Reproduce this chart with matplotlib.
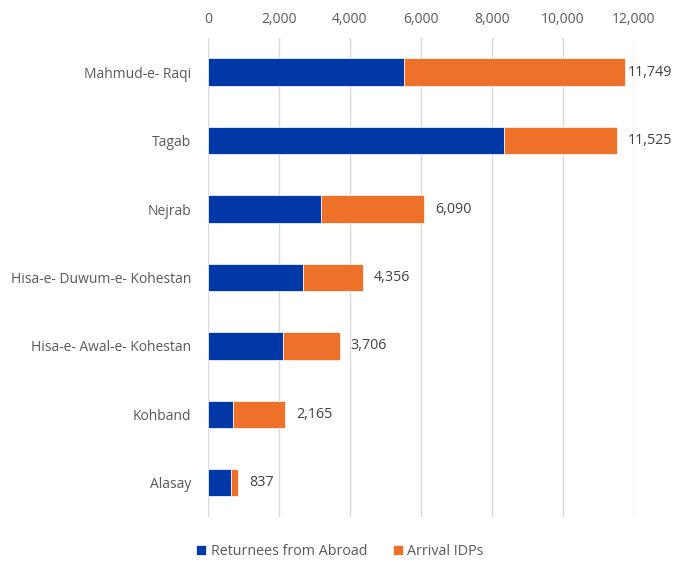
import matplotlib
matplotlib.use("Agg")
import matplotlib.pyplot as plt
from matplotlib.ticker import FuncFormatter

categories = ["Mahmud-e- Raqi", "Tagab", "Nejrab", "Hisa-e- Duwum-e- Kohestan",
              "Hisa-e- Awal-e- Kohestan", "Kohband", "Alasay"]
totals = [11749, 11525, 6090, 4356, 3706, 2165, 837]
returnees = [5510, 8330, 3190, 2675, 2100, 700, 650]
idps = [t - r for t, r in zip(totals, returnees)]

blue = "#0038A8"
orange = "#ED7128"
grey = "#595959"

plt.rcParams['font.family'] = ['Open Sans', 'DejaVu Sans']

fig = plt.figure(figsize=(6.73, 5.63), dpi=100)
ax = fig.add_axes([0.309, 0.0817, 0.633, 0.851])

y = list(range(len(categories)))
ax.barh(y, returnees, height=0.4, color=blue, edgecolor="white", linewidth=0.5,
        label="Returnees from Abroad", zorder=3)
ax.barh(y, idps, left=returnees, height=0.4, color=orange, edgecolor="white",
        linewidth=0.5, label="Arrival IDPs", zorder=3)

for i, t in enumerate(totals):
    off = 2 if i == 0 else 8
    ax.annotate(f"{t:,}", xy=(t, i), xytext=(off, 0), textcoords="offset points",
                va="center", ha="left", fontsize=10.3, color="#404040")

ax.set_xlim(0, 12000)
ax.set_ylim(len(categories) - 0.5, -0.5)
ax.set_yticks(y)
ax.set_yticklabels(categories)
ax.set_xticks(range(0, 12001, 2000))
ax.xaxis.set_major_formatter(FuncFormatter(lambda v, p: f"{int(v):,}"))
ax.xaxis.tick_top()
ax.tick_params(axis="both", length=0, labelsize=10, colors=grey, pad=8)
ax.tick_params(axis="y", pad=12)
ax.grid(axis="x", color="#d9d9d9", linewidth=1, zorder=0)
for s in ax.spines.values():
    s.set_visible(False)

handles, labels = ax.get_legend_handles_labels()
fig.legend(handles, labels, loc="center", bbox_to_anchor=(0.505, 0.02), ncol=2,
           frameon=False, fontsize=10.3, handlelength=0.7, handleheight=0.7,
           columnspacing=1.8, handletextpad=0.3, labelcolor=grey)

fig.savefig("out.png", dpi=100)
